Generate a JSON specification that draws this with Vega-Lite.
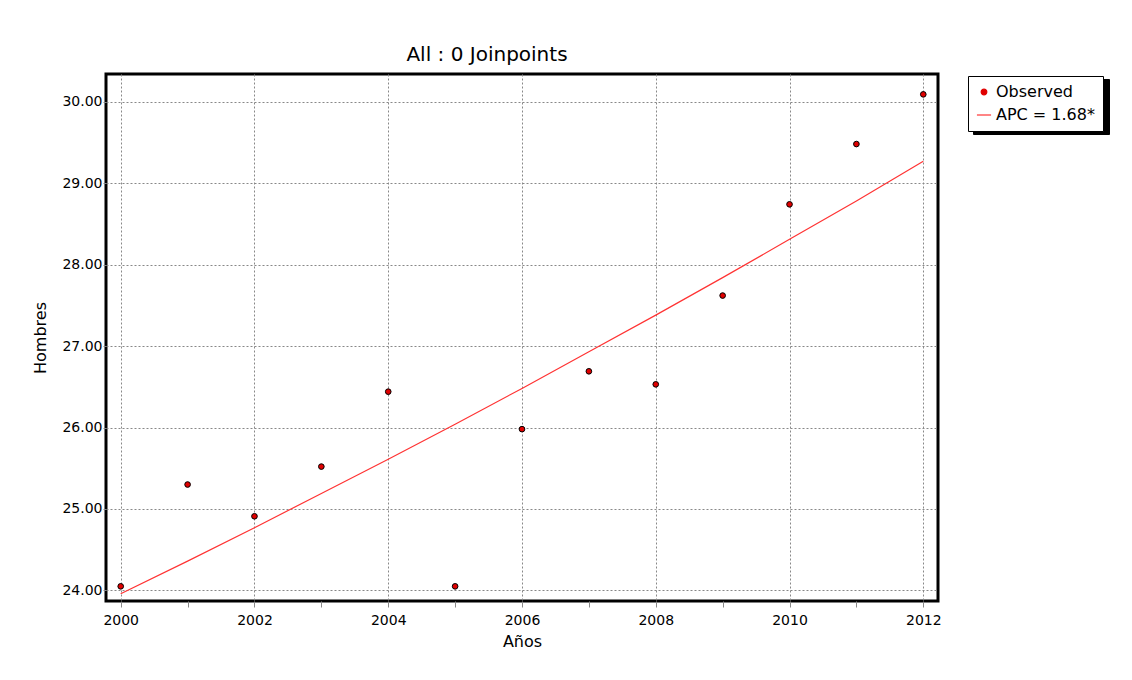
{
  "$schema": "https://vega.github.io/schema/vega-lite/v6.json",
  "autosize": "none",
  "width": 832,
  "height": 527,
  "padding": {"left": 106, "top": 74, "right": 194, "bottom": 79},
  "background": "white",
  "title": {"text": "All : 0 Joinpoints", "anchor": "middle", "dx": -35, "offset": 9, "font": "DejaVu Sans", "fontSize": 20, "fontWeight": "normal", "color": "#000000"},
  "config": {
    "view": {"stroke": "black", "strokeWidth": 3},
    "font": "DejaVu Sans",
    "axis": {"labelFont": "DejaVu Sans", "titleFont": "DejaVu Sans", "labelFontSize": 14, "titleFontSize": 16, "titleFontWeight": "normal", "labelColor": "#000", "titleColor": "#000", "domain": false, "tickColor": "#888", "gridColor": "#888", "gridDash": [2, 2], "gridWidth": 1, "gridOpacity": 1}
  },
  "datasets": {
    "obs": [
      {"year": 2000, "value": 24.05, "series": "Observed", "box": "Observed"},
      {"year": 2001, "value": 25.30, "series": "Observed", "box": "Observed"},
      {"year": 2002, "value": 24.91, "series": "Observed", "box": "Observed"},
      {"year": 2003, "value": 25.52, "series": "Observed", "box": "Observed"},
      {"year": 2004, "value": 26.44, "series": "Observed", "box": "Observed"},
      {"year": 2005, "value": 24.05, "series": "Observed", "box": "Observed"},
      {"year": 2006, "value": 25.98, "series": "Observed", "box": "Observed"},
      {"year": 2007, "value": 26.69, "series": "Observed", "box": "Observed"},
      {"year": 2008, "value": 26.53, "series": "Observed", "box": "Observed"},
      {"year": 2009, "value": 27.62, "series": "Observed", "box": "Observed"},
      {"year": 2010, "value": 28.74, "series": "Observed", "box": "Observed"},
      {"year": 2011, "value": 29.48, "series": "Observed", "box": "Observed"},
      {"year": 2012, "value": 30.09, "series": "Observed", "box": "Observed"}
    ],
    "fit": [
      {"year": 2000, "value": 23.96, "series": "APC = 1.68*", "box": "APC = 1.68*"},
      {"year": 2001, "value": 24.36, "series": "APC = 1.68*", "box": "APC = 1.68*"},
      {"year": 2002, "value": 24.77, "series": "APC = 1.68*", "box": "APC = 1.68*"},
      {"year": 2003, "value": 25.19, "series": "APC = 1.68*", "box": "APC = 1.68*"},
      {"year": 2004, "value": 25.61, "series": "APC = 1.68*", "box": "APC = 1.68*"},
      {"year": 2005, "value": 26.04, "series": "APC = 1.68*", "box": "APC = 1.68*"},
      {"year": 2006, "value": 26.48, "series": "APC = 1.68*", "box": "APC = 1.68*"},
      {"year": 2007, "value": 26.93, "series": "APC = 1.68*", "box": "APC = 1.68*"},
      {"year": 2008, "value": 27.38, "series": "APC = 1.68*", "box": "APC = 1.68*"},
      {"year": 2009, "value": 27.84, "series": "APC = 1.68*", "box": "APC = 1.68*"},
      {"year": 2010, "value": 28.31, "series": "APC = 1.68*", "box": "APC = 1.68*"},
      {"year": 2011, "value": 28.78, "series": "APC = 1.68*", "box": "APC = 1.68*"},
      {"year": 2012, "value": 29.27, "series": "APC = 1.68*", "box": "APC = 1.68*"}
    ]
  },
  "encoding": {
    "x": {"field": "year", "type": "quantitative", "scale": {"domain": [1999.78, 2012.22], "nice": false, "zero": false},
      "axis": {"title": "Años", "values": [2000, 2001, 2002, 2003, 2004, 2005, 2006, 2007, 2008, 2009, 2010, 2011, 2012], "labelExpr": "datum.value % 2 == 0 ? datum.value : ''", "format": "d", "tickSize": 6, "labelPadding": 6, "titlePadding": 6,
        "gridOpacity": {"condition": {"test": "datum.value % 2 == 1", "value": 0}, "value": 1}}},
    "y": {"field": "value", "type": "quantitative", "scale": {"domain": [23.87, 30.34], "nice": false, "zero": false},
      "axis": {"title": "Hombres", "values": [24, 25, 26, 27, 28, 29, 30], "format": ".2f", "tickSize": 3, "labelPadding": 1, "titlePadding": 13}}
  },
  "layer": [
    {
      "data": {"name": "fit"},
      "mark": {"type": "point", "opacity": 0, "size": 0},
      "encoding": {
        "opacity": {"field": "box", "type": "nominal", "sort": "descending",
          "legend": {"title": null, "orient": "none", "legendX": 867, "legendY": 5, "zindex": 0, "strokeColor": "black", "fillColor": "black", "padding": 8, "labelFontSize": 16, "labelFont": "DejaVu Sans", "labelColor": "black", "labelExpr": "''", "labelOffset": 104, "symbolFillColor": "black", "symbolStrokeColor": "black", "symbolSize": 30, "rowPadding": 7}}
      }
    },
    {
      "data": {"name": "obs"},
      "mark": {"type": "point", "opacity": 0, "size": 0},
      "encoding": {
        "opacity": {"field": "box", "type": "nominal"}
      }
    },
    {
      "data": {"name": "fit"},
      "mark": {"type": "line", "strokeWidth": 1.2, "clip": true},
      "encoding": {
        "color": {"field": "series", "type": "nominal", "scale": {"domain": ["Observed", "APC = 1.68*"], "range": ["#e00000", "#ff3333"]},
          "legend": {"title": null, "orient": "none", "legendX": 862, "legendY": 2, "zindex": 1, "strokeColor": "black", "fillColor": "white", "padding": 8, "labelFontSize": 16, "labelFont": "DejaVu Sans", "labelColor": "#000", "rowPadding": 7, "symbolStrokeWidth": 1.2}},
        "shape": {"field": "series", "type": "nominal", "scale": {"domain": ["Observed", "APC = 1.68*"], "range": ["circle", "stroke"]}}
      }
    },
    {
      "data": {"name": "obs"},
      "mark": {"type": "point", "filled": true, "stroke": "black", "strokeWidth": 1, "opacity": 1},
      "encoding": {
        "color": {"field": "series", "type": "nominal"},
        "shape": {"field": "series", "type": "nominal"},
        "size": {"field": "series", "type": "nominal", "scale": {"domain": ["Observed", "APC = 1.68*"], "range": [32, 200]}}
      }
    }
  ]
}
